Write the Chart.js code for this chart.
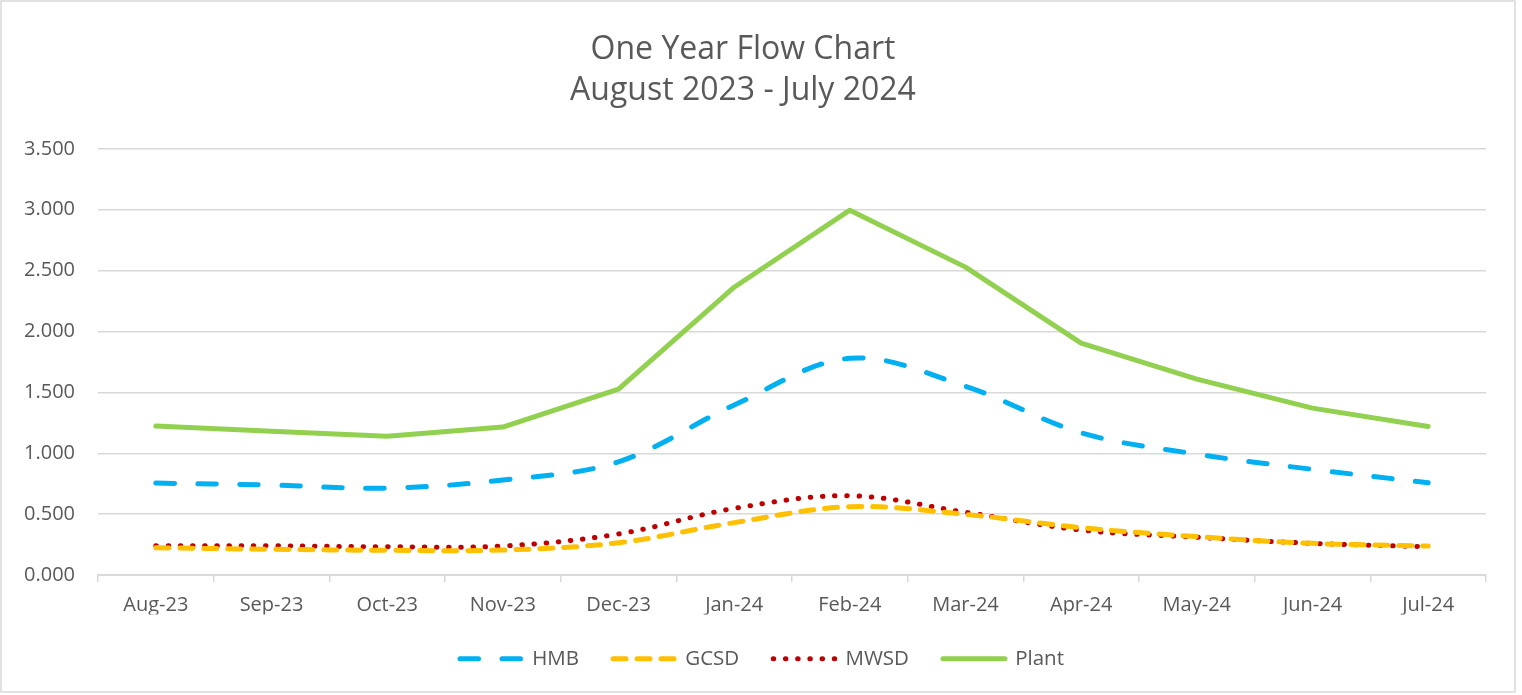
<!DOCTYPE html>
<html>
<head>
<meta charset="utf-8">
<script src="https://cdn.jsdelivr.net/npm/chart.js@4.4.1/dist/chart.umd.min.js"></script>
<style>
  html, body { margin: 0; padding: 0; background: #ffffff; }
  #wrap { position: relative; width: 1522px; height: 695px; }
</style>
</head>
<body>
<div id="wrap"><canvas id="c" width="1522" height="695"></canvas></div>
<script>
const titleLines = ['One Year Flow Chart', 'August 2023 - July 2024'];
const months = ['Aug-23','Sep-23','Oct-23','Nov-23','Dec-23','Jan-24','Feb-24','Mar-24','Apr-24','May-24','Jun-24','Jul-24'];
const hmb   = [0.755, 0.739, 0.714, 0.780, 0.930, 1.396, 1.780, 1.550, 1.168, 0.993, 0.868, 0.758];
const gcsd  = [0.224, 0.211, 0.203, 0.205, 0.265, 0.430, 0.561, 0.498, 0.389, 0.315, 0.260, 0.238];
const mwsd  = [0.241, 0.240, 0.232, 0.238, 0.337, 0.547, 0.651, 0.515, 0.369, 0.310, 0.260, 0.232];
const plant = [1.223, 1.180, 1.140, 1.215, 1.527, 2.364, 2.997, 2.529, 1.905, 1.609, 1.371, 1.220];
const yTicks = [0, 0.5, 1, 1.5, 2, 2.5, 3, 3.5];

const FONT = "'Open Sans', 'DejaVu Sans', sans-serif";
const TXT = '#595959';
const GRID = '#D9D9D9';

const borderPlugin = {
  id: 'outerBorder',
  afterLayout(chart) {
    // centre the legend on the whole canvas rather than on the padded box
    if (chart.legend) { chart.legend.left += 19; chart.legend.right += 19; }
  },
  afterDraw(chart) {
    const ctx = chart.ctx;
    ctx.save();
    ctx.strokeStyle = GRID;
    ctx.lineWidth = 1.5;
    ctx.strokeRect(1, 1, 1514, 691);
    ctx.restore();
  }
};

new Chart(document.getElementById('c'), {
  type: 'line',
  data: {
    labels: months,
    datasets: [
      { label: 'HMB', data: hmb, borderColor: '#00B0F0', backgroundColor: '#00B0F0',
        borderWidth: 5, borderDash: [18.5, 23.5], borderCapStyle: 'round', tension: 0.35,
        pointRadius: 0, pointHoverRadius: 0, fill: false },
      { label: 'GCSD', data: gcsd, borderColor: '#FFC000', backgroundColor: '#FFC000',
        borderWidth: 5, borderDash: [13, 11], borderCapStyle: 'round', tension: 0.35,
        pointRadius: 0, pointHoverRadius: 0, fill: false },
      { label: 'MWSD', data: mwsd, borderColor: '#C00000', backgroundColor: '#C00000',
        borderWidth: 5, borderDash: [0.5, 11.7], borderCapStyle: 'round', tension: 0.35,
        pointRadius: 0, pointHoverRadius: 0, fill: false },
      { label: 'Plant', data: plant, borderColor: '#92D050', backgroundColor: '#92D050',
        borderWidth: 5, borderCapStyle: 'round', borderJoinStyle: 'round', tension: 0,
        pointRadius: 0, pointHoverRadius: 0, fill: false }
    ]
  },
  options: {
    responsive: false,
    animation: false,
    devicePixelRatio: 1,
    layout: { padding: { left: 0, right: 36, top: 0, bottom: 16 } },
    plugins: {
      title: {
        display: true,
        text: titleLines,
        color: TXT,
        font: { family: FONT, size: 32, weight: 'normal', lineHeight: 1.28 },
        padding: { top: 29, bottom: 38 }
      },
      legend: {
        display: true,
        position: 'bottom',
        labels: {
          color: TXT,
          font: { family: FONT, size: 20.5 },
          usePointStyle: true,
          pointStyle: 'line',
          pointStyleWidth: 62,
          padding: 34,
          generateLabels(chart) {
            return chart.data.datasets.map((ds, i) => ({
              text: ds.label,
              datasetIndex: i,
              fillStyle: ds.borderColor,
              strokeStyle: ds.borderColor,
              fontColor: TXT,
              lineWidth: ds.borderWidth,
              lineDash: ds.borderDash || [],
              lineDashOffset: 0,
              lineCap: 'round',
              lineJoin: 'round',
              pointStyle: 'line',
              hidden: false
            }));
          }
        }
      },
      tooltip: { enabled: false }
    },
    scales: {
      x: {
        type: 'category',
        offset: true,
        grid: { display: true, offset: true, drawOnChartArea: false, drawTicks: true,
                tickLength: 7, color: GRID, lineWidth: 1.5 },
        border: { display: true, color: GRID, width: 2 },
        ticks: { color: TXT, font: { family: FONT, size: 20 }, padding: 11, maxRotation: 0, autoSkip: false },
        afterFit(scale) { scale.height = 39.5; }
      },
      y: {
        min: 0, max: 3.5,
        afterBuildTicks(scale) { scale.ticks = yTicks.map(v => ({ value: v })); },
        grid: { color: GRID, lineWidth: 1.5, drawTicks: false },
        border: { display: false },
        ticks: { color: TXT, font: { family: FONT, size: 20 }, padding: 23,
                 callback: v => Number(v).toFixed(3) },
        afterFit(scale) { scale.width = 98; }
      }
    }
  },
  plugins: [borderPlugin]
});
</script>
</body>
</html>
